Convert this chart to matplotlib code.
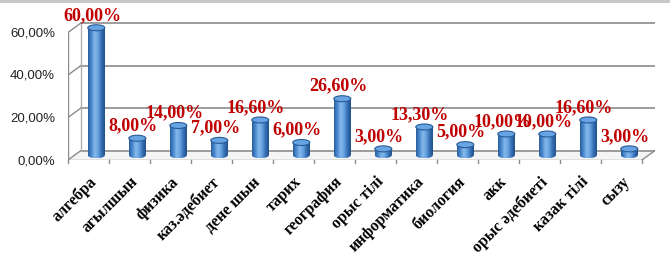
import matplotlib
matplotlib.use("Agg")
import matplotlib.pyplot as plt
from matplotlib.patches import Rectangle, Ellipse, Polygon
import matplotlib.colors as mcolors
import numpy as np

subjects = ["алгебра", "агылшын", "физика", "каз.әдебиет", "дене шын", "тарих",
            "география", "орыс тілі", "информатика", "биология", "акк",
            "орыс әдебиеті", "казак тілі", "сызу"]
values = [0.60, 0.08, 0.14, 0.07, 0.166, 0.06, 0.266, 0.03, 0.133, 0.05,
          0.10, 0.10, 0.166, 0.03]
labels = ["60,00%", "8,00%", "14,00%", "7,00%", "16,60%", "6,00%", "26,60%",
          "3,00%", "13,30%", "5,00%", "10,00%", "10,00%", "16,60%", "3,00%"]
yticks = [0.0, 0.2, 0.4, 0.6]

W, H = 670, 260
fig = plt.figure(figsize=(W / 100, H / 100), dpi=100)

# axes in pixel terms: front axis x=68..642, y0 at 160 px
left, right, bottom, top = 68, 655, 160, 15
ax = fig.add_axes([left / W, (H - bottom) / H, (right - left) / W, (bottom - top) / H])
n = len(subjects)
px_x = (642 - 68) / n          # px per category
px_y = 212.5                    # px per 100%
ax.set_xlim(0, (right - left) / px_x)
ax.set_ylim(0, (bottom - top) / px_y)
ax.axis("off")

dx = 13 / px_x
dy = 9.5 / px_y
grid_c = "#8c8c8c"

# back wall gridlines + left wall
for t in yticks:
    ax.plot([dx, n + dx], [t + dy, t + dy], color=grid_c, lw=1.2, zorder=1)
    ax.plot([0, dx], [t, t + dy], color=grid_c, lw=1.0, zorder=1)
ax.plot([dx, dx], [dy, max(yticks) + dy], color="#b0b0b0", lw=1.0, zorder=1)
ax.plot([0, 0], [0, max(yticks)], color=grid_c, lw=1.0, zorder=1)
# floor
ax.add_patch(Polygon([(0, 0), (n, 0), (n + dx, dy), (dx, dy)], closed=True,
                     facecolor="#f4f4f4", edgecolor="none", zorder=0))
ax.plot([0, n], [0, 0], color=grid_c, lw=1.0, zorder=1)
ax.plot([n, n + dx], [0, dy], color=grid_c, lw=1.0, zorder=1)
for i in range(n + 1):
    ax.plot([i, i], [0, -3 / px_y], color=grid_c, lw=1.0, clip_on=False, zorder=1)

# cylinders
bw = 17 / px_x
eh = 6 / px_y
cmap = mcolors.LinearSegmentedColormap.from_list(
    "cyl", ["#2a5e9c", "#4a8ad0", "#86b9ec", "#66a2e0", "#3570b3", "#22508a"])
grad = np.linspace(0, 1, 64).reshape(1, -1)
for i, v in enumerate(values):
    cx = i + 0.5 + dx * 0.6
    y0 = dy / 2
    y1 = y0 + v
    xl, xr = cx - bw / 2, cx + bw / 2
    clip_r = Rectangle((xl, y0), bw, v, transform=ax.transData)
    im = ax.imshow(grad, cmap=cmap, extent=[xl, xr, y0 - eh / 2, y1], aspect="auto",
                   zorder=3, interpolation="bilinear")
    im.set_clip_path(clip_r)
    im2 = ax.imshow(grad, cmap=cmap, extent=[xl, xr, y0 - eh / 2, y0 + eh / 2],
                    aspect="auto", zorder=3, interpolation="bilinear")
    im2.set_clip_path(Ellipse((cx, y0), bw, eh, transform=ax.transData))
    ax.add_patch(Ellipse((cx, y1), bw, eh, facecolor="#66a4e4", edgecolor="#2a5a95",
                         lw=0.8, zorder=4))
    ax.text(cx - 0.1, y1 + 4 / px_y, labels[i], ha="center", va="bottom",
            color="#c00000", fontsize=13, fontweight="bold",
            family="Liberation Serif", zorder=5)

# y tick labels
for t in yticks:
    ax.text(-13 / px_x, t - 1 / px_y, ("%.2f%%" % (t * 100)).replace(".", ","),
            ha="right", va="center", fontsize=9.5, color="#222222",
            family="Liberation Sans", clip_on=False)

# x labels
for i, s in enumerate(subjects):
    ax.text(i + 0.5, -14 / px_y, s, ha="right", va="top", rotation=45,
            rotation_mode="anchor", fontsize=11.5, fontweight="bold",
            family="Liberation Serif", clip_on=False)

# top frame line
fig.add_artist(Rectangle((0, 1 - 3 / H), 1, 3 / H, transform=fig.transFigure,
                         facecolor="#c8c8c8", edgecolor="none"))

fig.savefig("out.png", dpi=100)
